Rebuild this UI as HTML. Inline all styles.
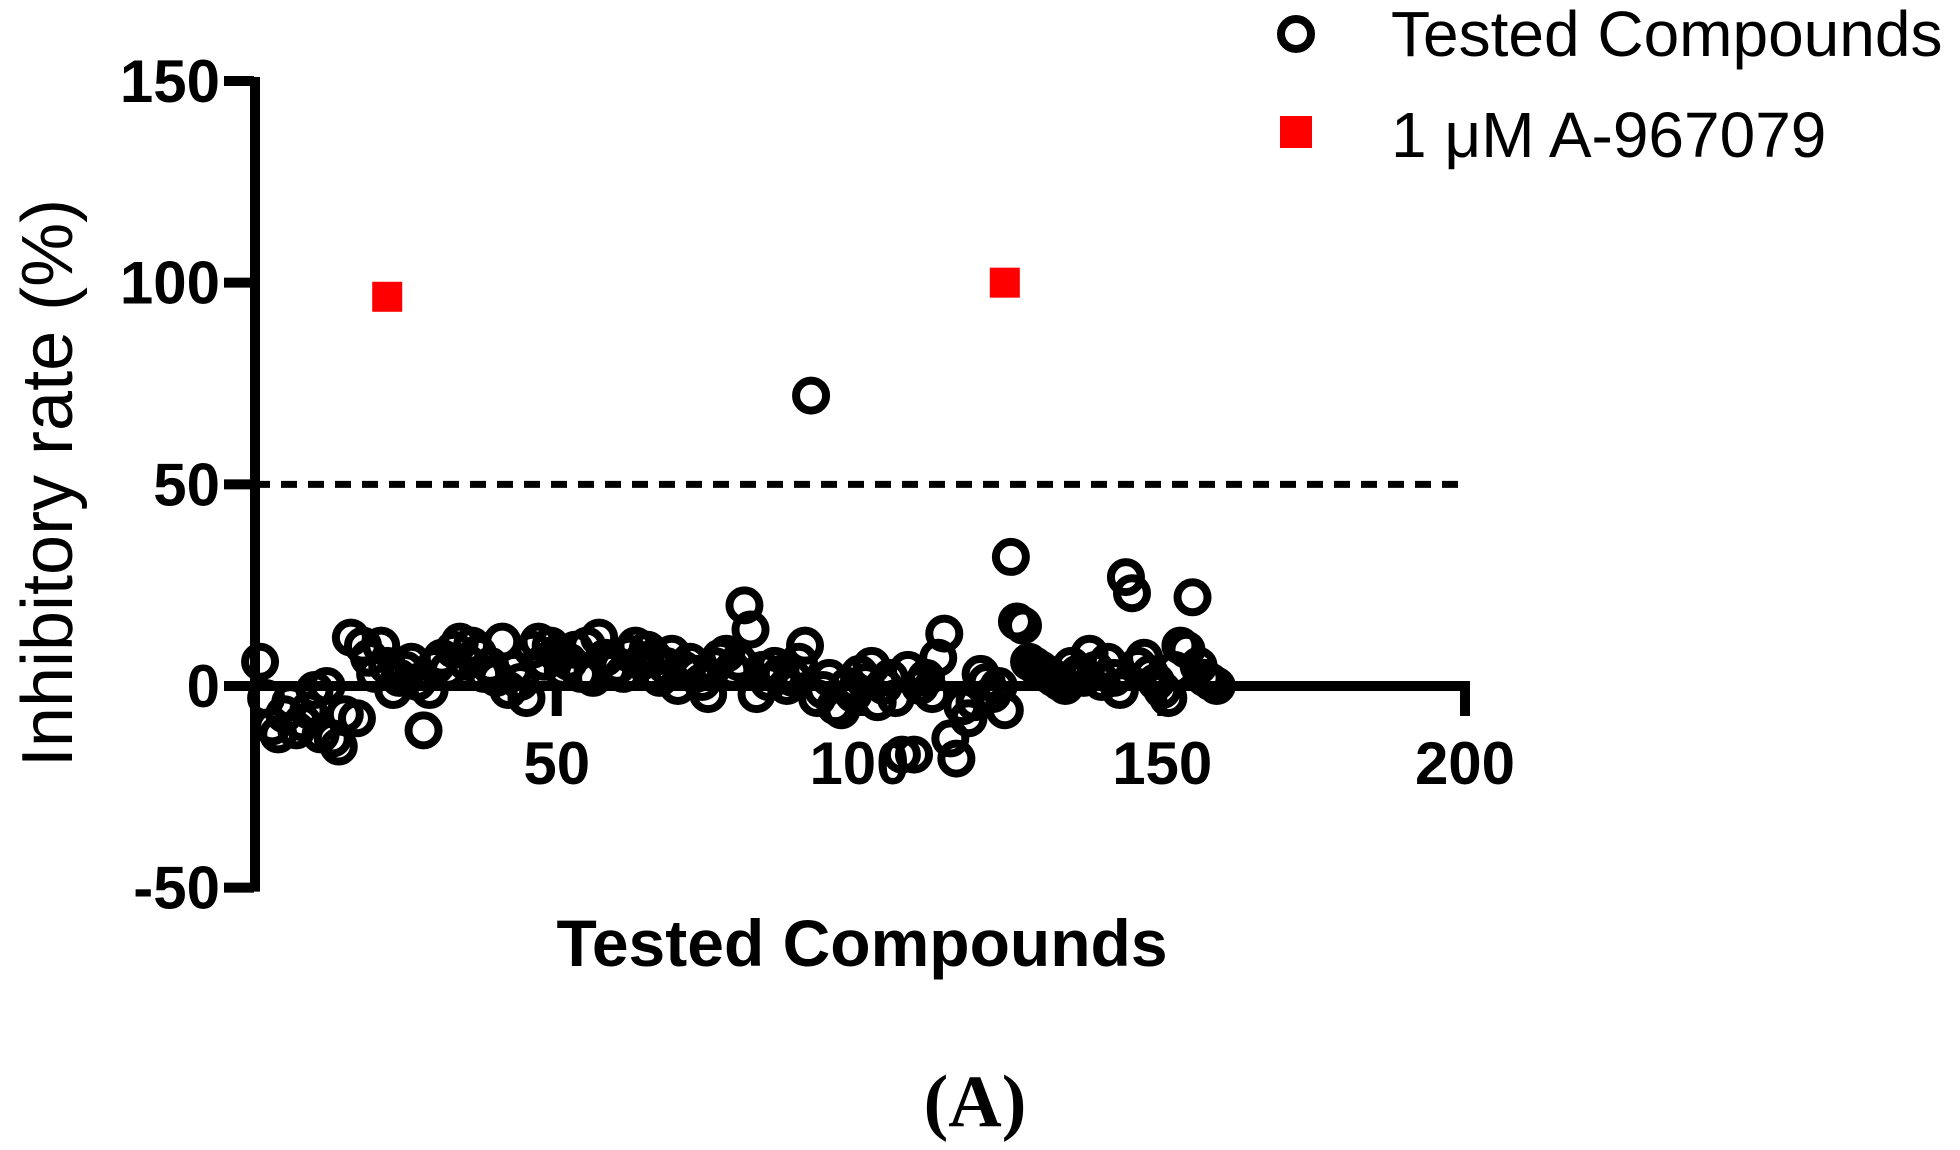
<!DOCTYPE html>
<html><head><meta charset="utf-8"><style>
body{margin:0;background:#fff;}
svg{display:block;}
</style></head><body>
<svg id="chart" width="1960" height="1150" viewBox="0 0 1960 1150" xmlns="http://www.w3.org/2000/svg">
<g id="axes"></g>
<g id="marks"></g>
<g>
<circle cx="1296" cy="34" r="15" fill="none" stroke="#000" stroke-width="8"/>
<text x="1391" y="56" font-family="Liberation Sans, sans-serif" font-size="64">Tested Compounds</text>
<rect x="1280" y="116" width="32" height="32" fill="#f00"/>
<text x="1391" y="157" font-family="Liberation Sans, sans-serif" font-size="64">1 μM A-967079</text>
</g>
<text transform="translate(72,483) rotate(-90)" text-anchor="middle" font-family="Liberation Sans, sans-serif" font-size="72">Inhibitory rate (%)</text>
<text x="862" y="966" text-anchor="middle" font-family="Liberation Sans, sans-serif" font-weight="bold" font-size="66">Tested Compounds</text>
<text x="975" y="1126" text-anchor="middle" font-family="Liberation Serif, serif" font-weight="bold" font-size="74">(A)</text>
</svg>
<script>
const xTicks=[50,100,150,200];
const yTicks=[-50,0,50,100,150];
const yTickLabels=["-50","0","50","100","150"];
const thresholdValue=50;
const compoundValues=[6,-3,-10,-12,-7,-4,-11,-9,-6,-1,-12,0,-13,-15,-7,12,-8,10,7,3,10,5,-1,2,4,6,1,-11,-1,5,7,4,9,11,6,10,8,3,5,2,11,-1,4,1,-3,9,11,6,10,8,4,6,9,3,10,2,12,7,4,5,3,8,10,6,9,7,2,5,8,0,4,6,3,1,-2,5,7,8,4,6,20,14,-2,4,1,5,3,0,2,6,10,72,-3,-1,2,-5,-6,0,-2,3,1,5,-4,0,2,-3,-17,4,-17,0,2,-2,7,13,-13,-18,-5,-8,-4,3,1,-2,0,-6,32,16,15,6,5,4,3,2,1,0,5,3,2,8,4,1,6,2,-1,27,23,5,7,3,1,-1,-3,4,10,9,22,5,2,1,0];
const controlX=[22,124];
const controlValues=[96.5,100];
const NS='http://www.w3.org/2000/svg';
const x0=254,xs=(1465-254)/200, y0=686, ys=(686-81)/150;
const X=v=>x0+v*xs, Y=v=>y0-v*ys;
const axes=document.getElementById('axes'), marks=document.getElementById('marks');
function mk(tag,attrs,parent){const e=document.createElementNS(NS,tag);for(const k in attrs)e.setAttribute(k,attrs[k]);parent.appendChild(e);return e;}
let th=mk('line',{x1:X(0),x2:X(200)+4,y1:Y(thresholdValue),y2:Y(thresholdValue),stroke:'#000','stroke-width':7,'stroke-dasharray':'16 11'},axes);


let ya=mk('line',{x1:X(0)+1,x2:X(0)+1,y1:Y(150)-4,y2:Y(-50)+4,stroke:'#000','stroke-width':10},axes);


let xa=mk('line',{x1:X(0),x2:X(200)+5,y1:Y(0),y2:Y(0),stroke:'#000','stroke-width':10},axes);


yTicks.forEach((t,i)=>{
 let l=mk('line',{x1:X(0)-30,x2:X(0),y1:Y(t),y2:Y(t),stroke:'#000','stroke-width':10},axes);
 
 
 let tx=mk('text',{x:X(0)-34,y:Y(t)+21,'text-anchor':'end','font-family':'Liberation Sans, sans-serif','font-weight':'bold','font-size':60},axes);
 tx.textContent=yTickLabels[i];
 
 
});
xTicks.forEach(t=>{
 let l=mk('line',{x1:X(t),x2:X(t),y1:Y(0),y2:Y(0)+30,stroke:'#000','stroke-width':10},axes);
 
 
 let tx=mk('text',{x:X(t),y:Y(0)+98,'text-anchor':'middle','font-family':'Liberation Sans, sans-serif','font-weight':'bold','font-size':60},axes);
 tx.textContent=String(t);
 
 
});
compoundValues.forEach((v,i)=>{
 let c=mk('circle',{cx:X(i+1),cy:Y(v),r:15,fill:'none',stroke:'#000','stroke-width':8},marks);
 
 
});
controlValues.forEach((v,i)=>{
 let r=mk('rect',{x:X(controlX[i])-15,y:Y(v)-15,width:30,height:30,fill:'#f00'},marks);
 
 
});
</script>
</body></html>
